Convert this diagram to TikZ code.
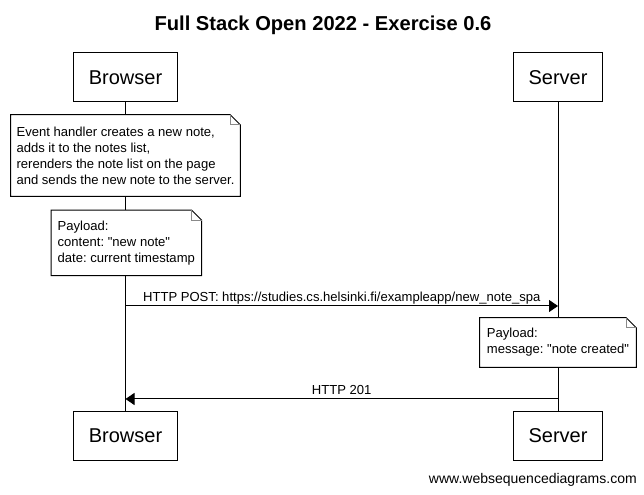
\documentclass[tikz,border=0pt]{standalone}
\usepackage{fontspec}
\setmainfont{Liberation Sans}
\frenchspacing
\usetikzlibrary{calc,arrows.meta}
\definecolor{ink}{HTML}{000000}
\definecolor{paper}{HTML}{FFFFFF}
\definecolor{fold}{HTML}{8A8A8A}
\tikzset{
  actor/.style={draw=ink, fill=paper, line width=0.75pt, inner xsep=11.25pt, minimum height=36.75pt, font=\fontsize{15}{18}\selectfont},
  life/.style={draw=ink, line width=0.75pt},
  msg/.style={draw=ink, line width=0.75pt, -{Triangle[length=6.75pt,width=9pt]}},
  note/.style={fill=paper, inner xsep=4pt, inner ysep=0pt, align=left, font=\fontsize{9.8}{12}\selectfont},
  lab/.style={anchor=base, yshift=3pt, inner sep=0pt, font=\fontsize{9.8}{12}\selectfont},
  heading/.style={anchor=base, inner sep=0pt, font=\fontsize{15.1}{18}\selectfont\bfseries},
  sitemark/.style={anchor=base east, inner sep=0pt, font=\fontsize{10.5}{12}\selectfont},
}
\newcommand{\qq}[1]{\textquotedbl#1\textquotedbl}
% note outline with folded corner
\newcommand{\noteframe}[1]{%
  \draw[ink, line width=0.75pt] (#1.north west) -- ($(#1.north east)+(-10,0)$) -- ($(#1.north east)+(0,10)$) -- (#1.south east) -- (#1.south west) -- cycle;
  \draw[fold, line width=0.75pt] ($(#1.north east)+(-10,0)$) -- ($(#1.north east)+(-10,10)$) -- ($(#1.north east)+(0,10)$);
}

\begin{document}
\begin{tikzpicture}[x=0.75pt, y=-0.75pt]
  \fill[paper] (0,0) rectangle (644,495);
  \useasboundingbox (0,0) rectangle (644,495);

  \node[heading] (title) at (323,31) {Full Stack Open 2022 - Exercise 0.6};

  % participants
  \node[actor] (browser top) at (125.5,77.5) {Browser};
  \node[actor] (server top) at (558,77.5) {Server};
  \node[actor] (browser bot) at (125.5,436) {Browser};
  \node[actor] (server bot) at (558,436) {Server};
  \draw[life] (browser top) -- (browser bot);
  \draw[life] (server top) -- (server bot);

  % notes over the lifelines
  \node[note, minimum width=171.75pt, minimum height=60.75pt] (handler) at (125.5,155.5)
    {Event handler creates a new note,\\adds it to the notes list,\\rerenders the note list on the page\\and sends the new note to the server.};
  \noteframe{handler}
  \node[note, minimum width=112.5pt, minimum height=48.75pt] (payload) at (126.3,242.8)
    {Payload:\\content: \qq{new note}\\date: current timestamp};
  \noteframe{payload}

  % request
  \coordinate (post b) at (125.5,306);
  \coordinate (post s) at (558,306);
  \draw[msg] (post b) -- node[lab] {HTTP POST: https://studies.cs.helsinki.fi/exampleapp/new\_note\_spa} (post s);

  \node[note, minimum width=117pt, minimum height=36.75pt] (reply) at (558,342.5)
    {Payload:\\message: \qq{note created}};
  \noteframe{reply}

  % response
  \coordinate (ok s) at (558,399);
  \coordinate (ok b) at (125.5,399);
  \draw[msg] (ok s) -- node[lab] {HTTP 201} (ok b);

  \node[sitemark] (site) at (637,484) {www.websequencediagrams.com};
\end{tikzpicture}
\end{document}
